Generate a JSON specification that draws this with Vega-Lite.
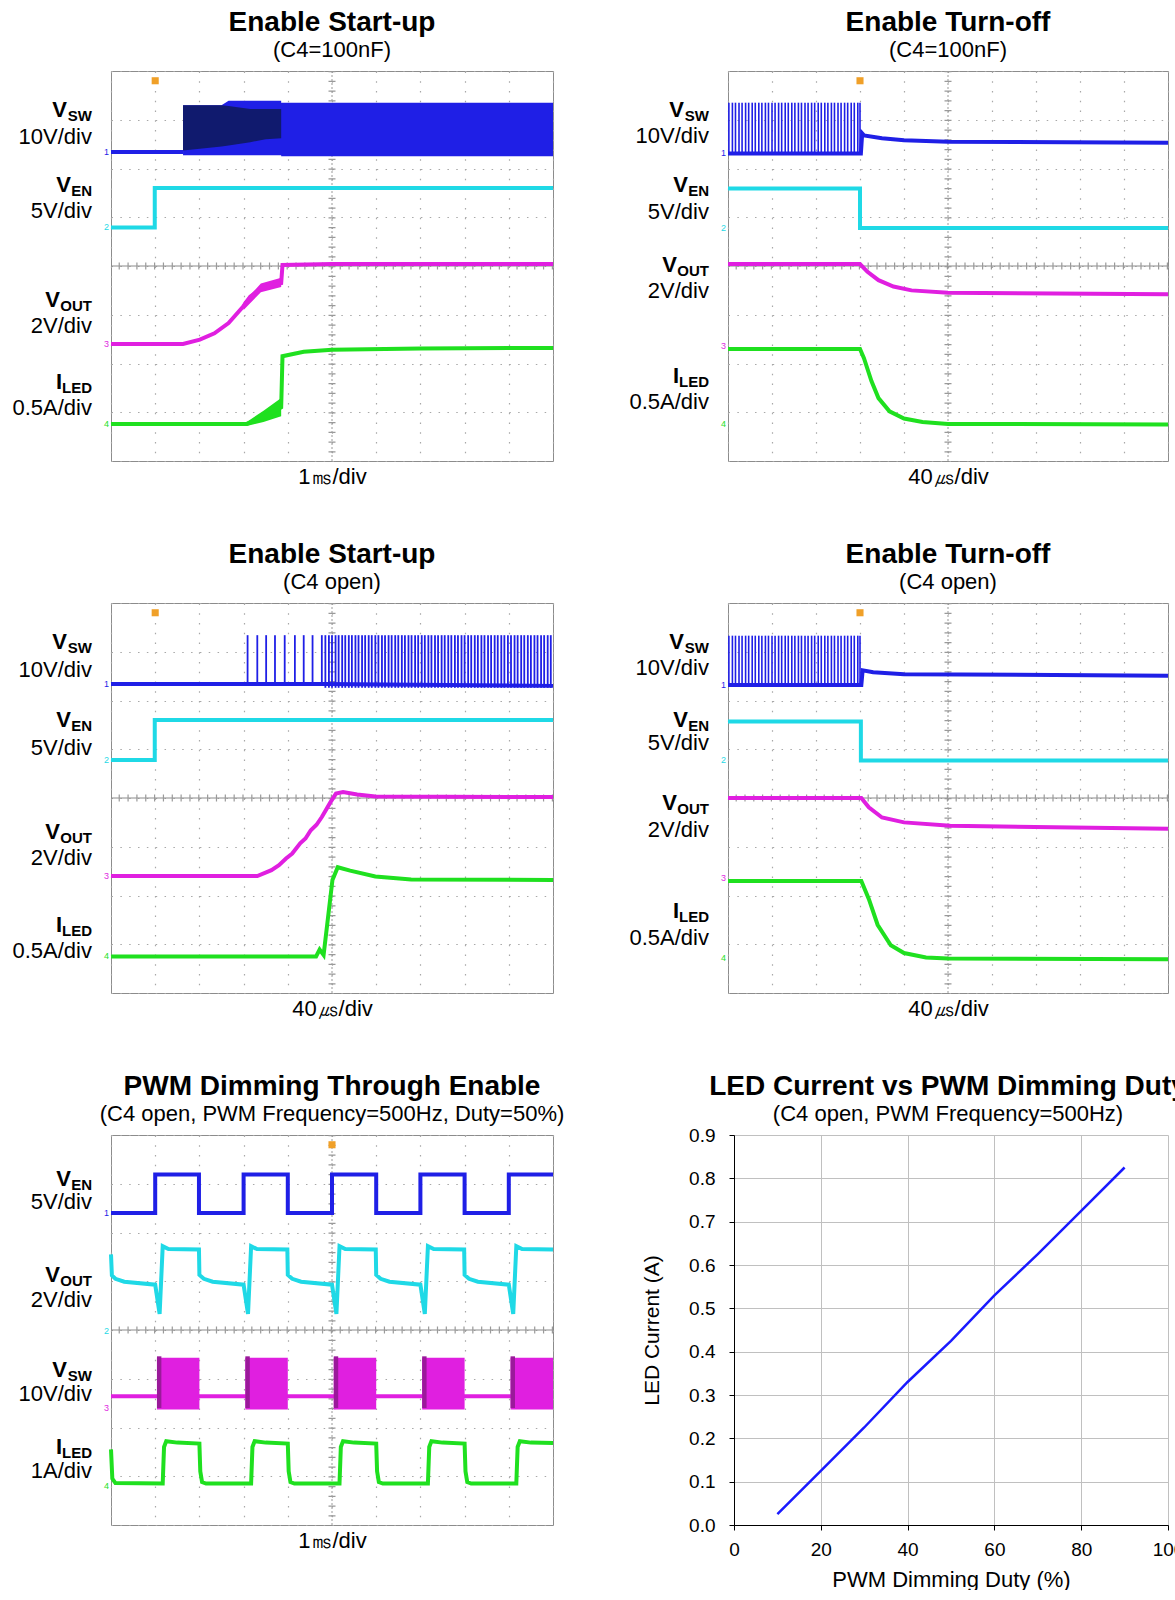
{
"$schema":"https://vega.github.io/schema/vega-lite/v6.json",
"padding":{"left":12,"top":8,"right":0,"bottom":0},
"background":"white",
"config":{
 "font":"Liberation Sans",
 "view":{"stroke":"#8c8c8c","strokeWidth":1},
 "axis":{"labels":false,"ticks":false,"domain":false,"grid":true,"gridColor":"#a8a8a8","gridWidth":1.2,"titleFont":"Liberation Sans","titleFontSize":22,"titleFontWeight":"normal","titleColor":"#000","titlePadding":5},
 "axisX":{"gridDash":[1.5,8.25]},
 "axisY":{"gridDash":[1.5,7.34]},
 "title":{"font":"Liberation Sans","fontSize":28,"fontWeight":"bold","color":"#000","subtitleFont":"Liberation Sans","subtitleFontSize":22,"subtitleColor":"#000","offset":7,"subtitlePadding":3,"anchor":"middle","frame":"group"},
 "text":{"font":"Liberation Sans","color":"#000"}
},
"datasets":{
 "tr":[
  {"p":1,"ch":1,"s":"a","x":0,"y":6.34},{"p":1,"ch":1,"s":"a","x":1.63,"y":6.34},
  {"p":1,"ch":2,"s":"b","x":0,"y":4.79},{"p":1,"ch":2,"s":"b","x":0.99,"y":4.79},{"p":1,"ch":2,"s":"b","x":0.99,"y":5.6},{"p":1,"ch":2,"s":"b","x":10,"y":5.6},
  {"p":1,"ch":3,"s":"c","x":0,"y":2.4},{"p":1,"ch":3,"s":"c","x":1.63,"y":2.4},{"p":1,"ch":3,"s":"c","x":2.01,"y":2.49},{"p":1,"ch":3,"s":"c","x":2.34,"y":2.62},{"p":1,"ch":3,"s":"c","x":2.66,"y":2.83},{"p":1,"ch":3,"s":"c","x":2.99,"y":3.17},{"p":1,"ch":3,"s":"c","x":3.15,"y":3.37},{"p":1,"ch":3,"s":"c","x":3.39,"y":3.54},{"p":1,"ch":3,"s":"c","x":3.6,"y":3.6},{"p":1,"ch":3,"s":"c","x":3.85,"y":3.65},{"p":1,"ch":3,"s":"c","x":3.88,"y":4.02},{"p":1,"ch":3,"s":"c","x":5,"y":4.04},{"p":1,"ch":3,"s":"c","x":10,"y":4.04},
  {"p":1,"ch":4,"s":"d","x":0,"y":0.76},{"p":1,"ch":4,"s":"d","x":3.07,"y":0.76},{"p":1,"ch":4,"s":"d","x":3.45,"y":0.9},{"p":1,"ch":4,"s":"d","x":3.85,"y":1.1},{"p":1,"ch":4,"s":"d","x":3.88,"y":2.15},{"p":1,"ch":4,"s":"d","x":4.36,"y":2.24},{"p":1,"ch":4,"s":"d","x":5,"y":2.28},{"p":1,"ch":4,"s":"d","x":7,"y":2.31},{"p":1,"ch":4,"s":"d","x":10,"y":2.32},

  {"p":2,"ch":1,"s":"a","x":0,"y":6.31},{"p":2,"ch":1,"s":"a","x":3.02,"y":6.31},{"p":2,"ch":1,"s":"a","x":3.05,"y":6.72},{"p":2,"ch":1,"s":"a","x":3.09,"y":6.68},{"p":2,"ch":1,"s":"a","x":3.5,"y":6.62},{"p":2,"ch":1,"s":"a","x":4,"y":6.58},{"p":2,"ch":1,"s":"a","x":5,"y":6.55},{"p":2,"ch":1,"s":"a","x":10,"y":6.53},
  {"p":2,"ch":2,"s":"b","x":0,"y":5.59},{"p":2,"ch":2,"s":"b","x":3,"y":5.59},{"p":2,"ch":2,"s":"b","x":3,"y":4.78},{"p":2,"ch":2,"s":"b","x":10,"y":4.78},
  {"p":2,"ch":3,"s":"c","x":0,"y":4.04},{"p":2,"ch":3,"s":"c","x":3,"y":4.04},{"p":2,"ch":3,"s":"c","x":3.17,"y":3.88},{"p":2,"ch":3,"s":"c","x":3.42,"y":3.71},{"p":2,"ch":3,"s":"c","x":3.76,"y":3.58},{"p":2,"ch":3,"s":"c","x":4.17,"y":3.5},{"p":2,"ch":3,"s":"c","x":5,"y":3.45},{"p":2,"ch":3,"s":"c","x":10,"y":3.42},
  {"p":2,"ch":4,"s":"d","x":0,"y":2.3},{"p":2,"ch":4,"s":"d","x":3,"y":2.3},{"p":2,"ch":4,"s":"d","x":3.09,"y":2.11},{"p":2,"ch":4,"s":"d","x":3.26,"y":1.64},{"p":2,"ch":4,"s":"d","x":3.42,"y":1.29},{"p":2,"ch":4,"s":"d","x":3.67,"y":1.02},{"p":2,"ch":4,"s":"d","x":4,"y":0.87},{"p":2,"ch":4,"s":"d","x":4.42,"y":0.8},{"p":2,"ch":4,"s":"d","x":5,"y":0.76},{"p":2,"ch":4,"s":"d","x":10,"y":0.75},

  {"p":3,"ch":1,"s":"a","x":0,"y":6.34},{"p":3,"ch":1,"s":"a","x":4.85,"y":6.34},{"p":3,"ch":1,"s":"a","x":10,"y":6.3},
  {"p":3,"ch":2,"s":"b","x":0,"y":4.78},{"p":3,"ch":2,"s":"b","x":0.99,"y":4.78},{"p":3,"ch":2,"s":"b","x":0.99,"y":5.6},{"p":3,"ch":2,"s":"b","x":10,"y":5.6},
  {"p":3,"ch":3,"s":"c","x":0,"y":2.4},{"p":3,"ch":3,"s":"c","x":3.31,"y":2.4},{"p":3,"ch":3,"s":"c","x":3.63,"y":2.52},{"p":3,"ch":3,"s":"c","x":3.8,"y":2.62},{"p":3,"ch":3,"s":"c","x":3.96,"y":2.76},{"p":3,"ch":3,"s":"c","x":4.1,"y":2.86},{"p":3,"ch":3,"s":"c","x":4.28,"y":3.07},{"p":3,"ch":3,"s":"c","x":4.4,"y":3.17},{"p":3,"ch":3,"s":"c","x":4.52,"y":3.34},{"p":3,"ch":3,"s":"c","x":4.65,"y":3.45},{"p":3,"ch":3,"s":"c","x":4.77,"y":3.61},{"p":3,"ch":3,"s":"c","x":4.97,"y":3.92},{"p":3,"ch":3,"s":"c","x":5.09,"y":4.09},{"p":3,"ch":3,"s":"c","x":5.25,"y":4.12},{"p":3,"ch":3,"s":"c","x":5.57,"y":4.07},{"p":3,"ch":3,"s":"c","x":5.98,"y":4.03},{"p":3,"ch":3,"s":"c","x":10,"y":4.02},
  {"p":3,"ch":4,"s":"d","x":0,"y":0.75},{"p":3,"ch":4,"s":"d","x":4.64,"y":0.75},{"p":3,"ch":4,"s":"d","x":4.72,"y":0.89},{"p":3,"ch":4,"s":"d","x":4.81,"y":0.78},{"p":3,"ch":4,"s":"d","x":5.01,"y":2.32},{"p":3,"ch":4,"s":"d","x":5.13,"y":2.58},{"p":3,"ch":4,"s":"d","x":5.41,"y":2.51},{"p":3,"ch":4,"s":"d","x":5.98,"y":2.39},{"p":3,"ch":4,"s":"d","x":6.79,"y":2.33},{"p":3,"ch":4,"s":"d","x":10,"y":2.32},

  {"p":4,"ch":1,"s":"a","x":0,"y":6.32},{"p":4,"ch":1,"s":"a","x":3.03,"y":6.32},{"p":4,"ch":1,"s":"a","x":3.06,"y":6.62},{"p":4,"ch":1,"s":"a","x":3.3,"y":6.58},{"p":4,"ch":1,"s":"a","x":4,"y":6.54},{"p":4,"ch":1,"s":"a","x":10,"y":6.51},
  {"p":4,"ch":2,"s":"b","x":0,"y":5.57},{"p":4,"ch":2,"s":"b","x":3.02,"y":5.57},{"p":4,"ch":2,"s":"b","x":3.02,"y":4.77},{"p":4,"ch":2,"s":"b","x":10,"y":4.77},
  {"p":4,"ch":3,"s":"c","x":0,"y":4.0},{"p":4,"ch":3,"s":"c","x":3.03,"y":4.0},{"p":4,"ch":3,"s":"c","x":3.2,"y":3.81},{"p":4,"ch":3,"s":"c","x":3.5,"y":3.6},{"p":4,"ch":3,"s":"c","x":4,"y":3.5},{"p":4,"ch":3,"s":"c","x":5.05,"y":3.43},{"p":4,"ch":3,"s":"c","x":10,"y":3.37},
  {"p":4,"ch":4,"s":"d","x":0,"y":2.3},{"p":4,"ch":4,"s":"d","x":3.03,"y":2.3},{"p":4,"ch":4,"s":"d","x":3.2,"y":1.93},{"p":4,"ch":4,"s":"d","x":3.4,"y":1.4},{"p":4,"ch":4,"s":"d","x":3.7,"y":0.98},{"p":4,"ch":4,"s":"d","x":4,"y":0.82},{"p":4,"ch":4,"s":"d","x":4.5,"y":0.73},{"p":4,"ch":4,"s":"d","x":5,"y":0.71},{"p":4,"ch":4,"s":"d","x":10,"y":0.69},

  {"p":5,"ch":1,"s":"a","x":0,"y":6.4},{"p":5,"ch":1,"s":"a","x":1,"y":6.4},{"p":5,"ch":1,"s":"a","x":1,"y":7.19},{"p":5,"ch":1,"s":"a","x":1.99,"y":7.19},{"p":5,"ch":1,"s":"a","x":1.99,"y":6.4},{"p":5,"ch":1,"s":"a","x":3,"y":6.4},{"p":5,"ch":1,"s":"a","x":3,"y":7.19},{"p":5,"ch":1,"s":"a","x":4,"y":7.19},{"p":5,"ch":1,"s":"a","x":4,"y":6.4},{"p":5,"ch":1,"s":"a","x":5,"y":6.4},{"p":5,"ch":1,"s":"a","x":5,"y":7.19},{"p":5,"ch":1,"s":"a","x":6,"y":7.19},{"p":5,"ch":1,"s":"a","x":6,"y":6.4},{"p":5,"ch":1,"s":"a","x":7,"y":6.4},{"p":5,"ch":1,"s":"a","x":7,"y":7.19},{"p":5,"ch":1,"s":"a","x":8,"y":7.19},{"p":5,"ch":1,"s":"a","x":8,"y":6.4},{"p":5,"ch":1,"s":"a","x":9,"y":6.4},{"p":5,"ch":1,"s":"a","x":9,"y":7.19},{"p":5,"ch":1,"s":"a","x":10,"y":7.19},
  {"p":5,"ch":2,"s":"b","x":0,"y":5.55},{"p":5,"ch":2,"s":"b","x":0.02,"y":5.12},{"p":5,"ch":2,"s":"b","x":0.1,"y":5.05},{"p":5,"ch":2,"s":"b","x":0.3,"y":4.99},{"p":5,"ch":2,"s":"b","x":1,"y":4.93},{"p":5,"ch":2,"s":"b","x":1.1,"y":4.33},{"p":5,"ch":2,"s":"b","x":1.17,"y":5.72},{"p":5,"ch":2,"s":"b","x":1.3,"y":5.66},{"p":5,"ch":2,"s":"b","x":1.99,"y":5.65},{"p":5,"ch":2,"s":"b","x":2,"y":5.13},{"p":5,"ch":2,"s":"b","x":2.1,"y":5.05},{"p":5,"ch":2,"s":"b","x":2.3,"y":4.99},{"p":5,"ch":2,"s":"b","x":3,"y":4.93},{"p":5,"ch":2,"s":"b","x":3.1,"y":4.33},{"p":5,"ch":2,"s":"b","x":3.17,"y":5.72},{"p":5,"ch":2,"s":"b","x":3.3,"y":5.66},{"p":5,"ch":2,"s":"b","x":3.99,"y":5.65},{"p":5,"ch":2,"s":"b","x":4,"y":5.13},{"p":5,"ch":2,"s":"b","x":4.1,"y":5.05},{"p":5,"ch":2,"s":"b","x":4.3,"y":4.99},{"p":5,"ch":2,"s":"b","x":5,"y":4.93},{"p":5,"ch":2,"s":"b","x":5.1,"y":4.33},{"p":5,"ch":2,"s":"b","x":5.17,"y":5.72},{"p":5,"ch":2,"s":"b","x":5.3,"y":5.66},{"p":5,"ch":2,"s":"b","x":5.99,"y":5.65},{"p":5,"ch":2,"s":"b","x":6,"y":5.13},{"p":5,"ch":2,"s":"b","x":6.1,"y":5.05},{"p":5,"ch":2,"s":"b","x":6.3,"y":4.99},{"p":5,"ch":2,"s":"b","x":7,"y":4.93},{"p":5,"ch":2,"s":"b","x":7.1,"y":4.33},{"p":5,"ch":2,"s":"b","x":7.17,"y":5.72},{"p":5,"ch":2,"s":"b","x":7.3,"y":5.66},{"p":5,"ch":2,"s":"b","x":7.99,"y":5.65},{"p":5,"ch":2,"s":"b","x":8,"y":5.13},{"p":5,"ch":2,"s":"b","x":8.1,"y":5.05},{"p":5,"ch":2,"s":"b","x":8.3,"y":4.99},{"p":5,"ch":2,"s":"b","x":9,"y":4.93},{"p":5,"ch":2,"s":"b","x":9.1,"y":4.33},{"p":5,"ch":2,"s":"b","x":9.17,"y":5.72},{"p":5,"ch":2,"s":"b","x":9.3,"y":5.66},{"p":5,"ch":2,"s":"b","x":10,"y":5.65},
  {"p":5,"ch":3,"s":"c","x":0,"y":2.64},{"p":5,"ch":3,"s":"c","x":10,"y":2.64},
  {"p":5,"ch":4,"s":"d","x":0,"y":1.55},{"p":5,"ch":4,"s":"d","x":0.03,"y":0.95},{"p":5,"ch":4,"s":"d","x":0.1,"y":0.86},{"p":5,"ch":4,"s":"d","x":1.17,"y":0.85},{"p":5,"ch":4,"s":"d","x":1.2,"y":1.6},{"p":5,"ch":4,"s":"d","x":1.25,"y":1.72},{"p":5,"ch":4,"s":"d","x":1.5,"y":1.69},{"p":5,"ch":4,"s":"d","x":2,"y":1.67},{"p":5,"ch":4,"s":"d","x":2.02,"y":1.1},{"p":5,"ch":4,"s":"d","x":2.06,"y":0.88},{"p":5,"ch":4,"s":"d","x":2.15,"y":0.85},{"p":5,"ch":4,"s":"d","x":3.17,"y":0.85},{"p":5,"ch":4,"s":"d","x":3.2,"y":1.6},{"p":5,"ch":4,"s":"d","x":3.25,"y":1.72},{"p":5,"ch":4,"s":"d","x":3.5,"y":1.69},{"p":5,"ch":4,"s":"d","x":4,"y":1.67},{"p":5,"ch":4,"s":"d","x":4.02,"y":1.1},{"p":5,"ch":4,"s":"d","x":4.06,"y":0.88},{"p":5,"ch":4,"s":"d","x":4.15,"y":0.85},{"p":5,"ch":4,"s":"d","x":5.17,"y":0.85},{"p":5,"ch":4,"s":"d","x":5.2,"y":1.6},{"p":5,"ch":4,"s":"d","x":5.25,"y":1.72},{"p":5,"ch":4,"s":"d","x":5.5,"y":1.69},{"p":5,"ch":4,"s":"d","x":6,"y":1.67},{"p":5,"ch":4,"s":"d","x":6.02,"y":1.1},{"p":5,"ch":4,"s":"d","x":6.06,"y":0.88},{"p":5,"ch":4,"s":"d","x":6.15,"y":0.85},{"p":5,"ch":4,"s":"d","x":7.17,"y":0.85},{"p":5,"ch":4,"s":"d","x":7.2,"y":1.6},{"p":5,"ch":4,"s":"d","x":7.25,"y":1.72},{"p":5,"ch":4,"s":"d","x":7.5,"y":1.69},{"p":5,"ch":4,"s":"d","x":8,"y":1.67},{"p":5,"ch":4,"s":"d","x":8.02,"y":1.1},{"p":5,"ch":4,"s":"d","x":8.06,"y":0.88},{"p":5,"ch":4,"s":"d","x":8.15,"y":0.85},{"p":5,"ch":4,"s":"d","x":9.17,"y":0.85},{"p":5,"ch":4,"s":"d","x":9.2,"y":1.6},{"p":5,"ch":4,"s":"d","x":9.25,"y":1.72},{"p":5,"ch":4,"s":"d","x":9.5,"y":1.69},{"p":5,"ch":4,"s":"d","x":10,"y":1.68}
 ],
 "bd":[
  {"p":1,"ch":1,"s":"w","x":1.63,"lo":6.27,"hi":7.3},{"p":1,"ch":1,"s":"w","x":2.5,"lo":6.27,"hi":7.3},{"p":1,"ch":1,"s":"w","x":2.66,"lo":6.27,"hi":7.39},{"p":1,"ch":1,"s":"w","x":3.85,"lo":6.27,"hi":7.39},{"p":1,"ch":1,"s":"w","x":3.85,"lo":6.25,"hi":7.35},{"p":1,"ch":1,"s":"w","x":10,"lo":6.25,"hi":7.35},
  {"p":1,"ch":3,"s":"v","x":3.0,"lo":3.1,"hi":3.26},{"p":1,"ch":3,"s":"v","x":3.39,"lo":3.46,"hi":3.64},{"p":1,"ch":3,"s":"v","x":3.85,"lo":3.57,"hi":3.76},
  {"p":1,"ch":4,"s":"i","x":3.07,"lo":0.72,"hi":0.8},{"p":1,"ch":4,"s":"i","x":3.45,"lo":0.8,"hi":1.03},{"p":1,"ch":4,"s":"i","x":3.85,"lo":0.92,"hi":1.29},
  {"p":5,"ch":3,"s":"k1","x":1.04,"lo":2.37,"hi":3.43},{"p":5,"ch":3,"s":"k1","x":2.0,"lo":2.37,"hi":3.43},
  {"p":5,"ch":3,"s":"k2","x":3.04,"lo":2.37,"hi":3.43},{"p":5,"ch":3,"s":"k2","x":4.0,"lo":2.37,"hi":3.43},
  {"p":5,"ch":3,"s":"k3","x":5.04,"lo":2.37,"hi":3.43},{"p":5,"ch":3,"s":"k3","x":6.0,"lo":2.37,"hi":3.43},
  {"p":5,"ch":3,"s":"k4","x":7.04,"lo":2.37,"hi":3.43},{"p":5,"ch":3,"s":"k4","x":8.0,"lo":2.37,"hi":3.43},
  {"p":5,"ch":3,"s":"k5","x":9.04,"lo":2.37,"hi":3.43},{"p":5,"ch":3,"s":"k5","x":10,"lo":2.37,"hi":3.43}
 ],
 "core":[
  {"p":1,"ch":1,"s":"n","x":1.63,"lo":6.37,"hi":7.3},{"p":1,"ch":1,"s":"n","x":2.5,"lo":6.45,"hi":7.3},{"p":1,"ch":1,"s":"n","x":2.66,"lo":6.47,"hi":7.28},{"p":1,"ch":1,"s":"n","x":3.15,"lo":6.54,"hi":7.22},{"p":1,"ch":1,"s":"n","x":3.5,"lo":6.6,"hi":7.22},{"p":1,"ch":1,"s":"n","x":3.85,"lo":6.62,"hi":7.22},
  {"p":5,"ch":3,"s":"q1","x":1.04,"lo":2.4,"hi":3.46},{"p":5,"ch":3,"s":"q1","x":1.14,"lo":2.4,"hi":3.46},
  {"p":5,"ch":3,"s":"q2","x":3.04,"lo":2.4,"hi":3.46},{"p":5,"ch":3,"s":"q2","x":3.14,"lo":2.4,"hi":3.46},
  {"p":5,"ch":3,"s":"q3","x":5.04,"lo":2.4,"hi":3.46},{"p":5,"ch":3,"s":"q3","x":5.14,"lo":2.4,"hi":3.46},
  {"p":5,"ch":3,"s":"q4","x":7.04,"lo":2.4,"hi":3.46},{"p":5,"ch":3,"s":"q4","x":7.14,"lo":2.4,"hi":3.46},
  {"p":5,"ch":3,"s":"q5","x":9.04,"lo":2.4,"hi":3.46},{"p":5,"ch":3,"s":"q5","x":9.14,"lo":2.4,"hi":3.46}
 ],
 "sp":[
  {"p":2,"ch":1,"x":0.02,"lo":6.31,"hi":7.35},{"p":2,"ch":1,"x":0.1,"lo":6.31,"hi":7.35},{"p":2,"ch":1,"x":0.17,"lo":6.31,"hi":7.35},{"p":2,"ch":1,"x":0.25,"lo":6.31,"hi":7.35},{"p":2,"ch":1,"x":0.32,"lo":6.31,"hi":7.35},{"p":2,"ch":1,"x":0.4,"lo":6.31,"hi":7.35},{"p":2,"ch":1,"x":0.47,"lo":6.31,"hi":7.35},{"p":2,"ch":1,"x":0.55,"lo":6.31,"hi":7.35},{"p":2,"ch":1,"x":0.62,"lo":6.31,"hi":7.35},{"p":2,"ch":1,"x":0.7,"lo":6.31,"hi":7.35},{"p":2,"ch":1,"x":0.77,"lo":6.31,"hi":7.35},{"p":2,"ch":1,"x":0.85,"lo":6.31,"hi":7.35},{"p":2,"ch":1,"x":0.92,"lo":6.31,"hi":7.35},{"p":2,"ch":1,"x":1.0,"lo":6.31,"hi":7.35},{"p":2,"ch":1,"x":1.07,"lo":6.31,"hi":7.35},{"p":2,"ch":1,"x":1.15,"lo":6.31,"hi":7.35},{"p":2,"ch":1,"x":1.22,"lo":6.31,"hi":7.35},{"p":2,"ch":1,"x":1.3,"lo":6.31,"hi":7.35},{"p":2,"ch":1,"x":1.37,"lo":6.31,"hi":7.35},{"p":2,"ch":1,"x":1.45,"lo":6.31,"hi":7.35},{"p":2,"ch":1,"x":1.52,"lo":6.31,"hi":7.35},{"p":2,"ch":1,"x":1.6,"lo":6.31,"hi":7.35},{"p":2,"ch":1,"x":1.67,"lo":6.31,"hi":7.35},{"p":2,"ch":1,"x":1.75,"lo":6.31,"hi":7.35},{"p":2,"ch":1,"x":1.82,"lo":6.31,"hi":7.35},{"p":2,"ch":1,"x":1.9,"lo":6.31,"hi":7.35},{"p":2,"ch":1,"x":1.97,"lo":6.31,"hi":7.35},{"p":2,"ch":1,"x":2.05,"lo":6.31,"hi":7.35},{"p":2,"ch":1,"x":2.12,"lo":6.31,"hi":7.35},{"p":2,"ch":1,"x":2.2,"lo":6.31,"hi":7.35},{"p":2,"ch":1,"x":2.27,"lo":6.31,"hi":7.35},{"p":2,"ch":1,"x":2.35,"lo":6.31,"hi":7.35},{"p":2,"ch":1,"x":2.42,"lo":6.31,"hi":7.35},{"p":2,"ch":1,"x":2.5,"lo":6.31,"hi":7.35},{"p":2,"ch":1,"x":2.57,"lo":6.31,"hi":7.35},{"p":2,"ch":1,"x":2.65,"lo":6.31,"hi":7.35},{"p":2,"ch":1,"x":2.72,"lo":6.31,"hi":7.35},{"p":2,"ch":1,"x":2.8,"lo":6.31,"hi":7.35},{"p":2,"ch":1,"x":2.87,"lo":6.31,"hi":7.35},{"p":2,"ch":1,"x":2.95,"lo":6.31,"hi":7.35},{"p":2,"ch":1,"x":3.0,"lo":6.31,"hi":7.35},
  {"p":4,"ch":1,"x":0.02,"lo":6.32,"hi":7.33},{"p":4,"ch":1,"x":0.1,"lo":6.32,"hi":7.33},{"p":4,"ch":1,"x":0.17,"lo":6.32,"hi":7.33},{"p":4,"ch":1,"x":0.25,"lo":6.32,"hi":7.33},{"p":4,"ch":1,"x":0.32,"lo":6.32,"hi":7.33},{"p":4,"ch":1,"x":0.4,"lo":6.32,"hi":7.33},{"p":4,"ch":1,"x":0.47,"lo":6.32,"hi":7.33},{"p":4,"ch":1,"x":0.55,"lo":6.32,"hi":7.33},{"p":4,"ch":1,"x":0.62,"lo":6.32,"hi":7.33},{"p":4,"ch":1,"x":0.7,"lo":6.32,"hi":7.33},{"p":4,"ch":1,"x":0.77,"lo":6.32,"hi":7.33},{"p":4,"ch":1,"x":0.85,"lo":6.32,"hi":7.33},{"p":4,"ch":1,"x":0.92,"lo":6.32,"hi":7.33},{"p":4,"ch":1,"x":1.0,"lo":6.32,"hi":7.33},{"p":4,"ch":1,"x":1.07,"lo":6.32,"hi":7.33},{"p":4,"ch":1,"x":1.15,"lo":6.32,"hi":7.33},{"p":4,"ch":1,"x":1.22,"lo":6.32,"hi":7.33},{"p":4,"ch":1,"x":1.3,"lo":6.32,"hi":7.33},{"p":4,"ch":1,"x":1.37,"lo":6.32,"hi":7.33},{"p":4,"ch":1,"x":1.45,"lo":6.32,"hi":7.33},{"p":4,"ch":1,"x":1.52,"lo":6.32,"hi":7.33},{"p":4,"ch":1,"x":1.6,"lo":6.32,"hi":7.33},{"p":4,"ch":1,"x":1.67,"lo":6.32,"hi":7.33},{"p":4,"ch":1,"x":1.75,"lo":6.32,"hi":7.33},{"p":4,"ch":1,"x":1.82,"lo":6.32,"hi":7.33},{"p":4,"ch":1,"x":1.9,"lo":6.32,"hi":7.33},{"p":4,"ch":1,"x":1.97,"lo":6.32,"hi":7.33},{"p":4,"ch":1,"x":2.05,"lo":6.32,"hi":7.33},{"p":4,"ch":1,"x":2.12,"lo":6.32,"hi":7.33},{"p":4,"ch":1,"x":2.2,"lo":6.32,"hi":7.33},{"p":4,"ch":1,"x":2.27,"lo":6.32,"hi":7.33},{"p":4,"ch":1,"x":2.35,"lo":6.32,"hi":7.33},{"p":4,"ch":1,"x":2.42,"lo":6.32,"hi":7.33},{"p":4,"ch":1,"x":2.5,"lo":6.32,"hi":7.33},{"p":4,"ch":1,"x":2.57,"lo":6.32,"hi":7.33},{"p":4,"ch":1,"x":2.65,"lo":6.32,"hi":7.33},{"p":4,"ch":1,"x":2.72,"lo":6.32,"hi":7.33},{"p":4,"ch":1,"x":2.8,"lo":6.32,"hi":7.33},{"p":4,"ch":1,"x":2.87,"lo":6.32,"hi":7.33},{"p":4,"ch":1,"x":2.95,"lo":6.32,"hi":7.33},{"p":4,"ch":1,"x":3.0,"lo":6.32,"hi":7.33},
  {"p":3,"ch":1,"x":3.09,"lo":6.34,"hi":7.34},{"p":3,"ch":1,"x":3.31,"lo":6.34,"hi":7.34},{"p":3,"ch":1,"x":3.51,"lo":6.34,"hi":7.34},{"p":3,"ch":1,"x":3.71,"lo":6.34,"hi":7.34},{"p":3,"ch":1,"x":3.93,"lo":6.34,"hi":7.34},{"p":3,"ch":1,"x":4.16,"lo":6.34,"hi":7.34},{"p":3,"ch":1,"x":4.36,"lo":6.34,"hi":7.34},{"p":3,"ch":1,"x":4.56,"lo":6.34,"hi":7.34},{"p":3,"ch":1,"x":4.77,"lo":6.34,"hi":7.34},
  {"p":3,"ch":1,"x":4.85,"lo":6.26,"hi":7.34},{"p":3,"ch":1,"x":4.93,"lo":6.26,"hi":7.34},{"p":3,"ch":1,"x":5.0,"lo":6.26,"hi":7.34},{"p":3,"ch":1,"x":5.08,"lo":6.26,"hi":7.34},{"p":3,"ch":1,"x":5.15,"lo":6.26,"hi":7.34},{"p":3,"ch":1,"x":5.23,"lo":6.26,"hi":7.34},{"p":3,"ch":1,"x":5.3,"lo":6.26,"hi":7.34},{"p":3,"ch":1,"x":5.38,"lo":6.26,"hi":7.34},{"p":3,"ch":1,"x":5.45,"lo":6.26,"hi":7.34},{"p":3,"ch":1,"x":5.53,"lo":6.26,"hi":7.34},{"p":3,"ch":1,"x":5.6,"lo":6.26,"hi":7.34},{"p":3,"ch":1,"x":5.68,"lo":6.26,"hi":7.34},{"p":3,"ch":1,"x":5.75,"lo":6.26,"hi":7.34},{"p":3,"ch":1,"x":5.83,"lo":6.26,"hi":7.34},{"p":3,"ch":1,"x":5.9,"lo":6.26,"hi":7.34},{"p":3,"ch":1,"x":5.98,"lo":6.26,"hi":7.34},{"p":3,"ch":1,"x":6.05,"lo":6.26,"hi":7.34},{"p":3,"ch":1,"x":6.13,"lo":6.26,"hi":7.34},{"p":3,"ch":1,"x":6.2,"lo":6.26,"hi":7.34},{"p":3,"ch":1,"x":6.28,"lo":6.26,"hi":7.34},{"p":3,"ch":1,"x":6.35,"lo":6.26,"hi":7.34},{"p":3,"ch":1,"x":6.43,"lo":6.26,"hi":7.34},{"p":3,"ch":1,"x":6.5,"lo":6.26,"hi":7.34},{"p":3,"ch":1,"x":6.58,"lo":6.26,"hi":7.34},{"p":3,"ch":1,"x":6.65,"lo":6.26,"hi":7.34},{"p":3,"ch":1,"x":6.73,"lo":6.26,"hi":7.34},{"p":3,"ch":1,"x":6.8,"lo":6.26,"hi":7.34},{"p":3,"ch":1,"x":6.88,"lo":6.26,"hi":7.34},{"p":3,"ch":1,"x":6.95,"lo":6.26,"hi":7.34},{"p":3,"ch":1,"x":7.03,"lo":6.26,"hi":7.34},{"p":3,"ch":1,"x":7.1,"lo":6.26,"hi":7.34},{"p":3,"ch":1,"x":7.18,"lo":6.26,"hi":7.34},{"p":3,"ch":1,"x":7.25,"lo":6.26,"hi":7.34},{"p":3,"ch":1,"x":7.33,"lo":6.26,"hi":7.34},{"p":3,"ch":1,"x":7.4,"lo":6.26,"hi":7.34},{"p":3,"ch":1,"x":7.48,"lo":6.26,"hi":7.34},{"p":3,"ch":1,"x":7.55,"lo":6.26,"hi":7.34},{"p":3,"ch":1,"x":7.63,"lo":6.26,"hi":7.34},{"p":3,"ch":1,"x":7.7,"lo":6.26,"hi":7.34},{"p":3,"ch":1,"x":7.78,"lo":6.26,"hi":7.34},{"p":3,"ch":1,"x":7.85,"lo":6.26,"hi":7.34},{"p":3,"ch":1,"x":7.93,"lo":6.26,"hi":7.34},{"p":3,"ch":1,"x":8.0,"lo":6.26,"hi":7.34},{"p":3,"ch":1,"x":8.08,"lo":6.26,"hi":7.34},{"p":3,"ch":1,"x":8.15,"lo":6.26,"hi":7.34},{"p":3,"ch":1,"x":8.23,"lo":6.26,"hi":7.34},{"p":3,"ch":1,"x":8.3,"lo":6.26,"hi":7.34},{"p":3,"ch":1,"x":8.38,"lo":6.26,"hi":7.34},{"p":3,"ch":1,"x":8.45,"lo":6.26,"hi":7.34},{"p":3,"ch":1,"x":8.53,"lo":6.26,"hi":7.34},{"p":3,"ch":1,"x":8.6,"lo":6.26,"hi":7.34},{"p":3,"ch":1,"x":8.68,"lo":6.26,"hi":7.34},{"p":3,"ch":1,"x":8.75,"lo":6.26,"hi":7.34},{"p":3,"ch":1,"x":8.83,"lo":6.26,"hi":7.34},{"p":3,"ch":1,"x":8.9,"lo":6.26,"hi":7.34},{"p":3,"ch":1,"x":8.98,"lo":6.26,"hi":7.34},{"p":3,"ch":1,"x":9.05,"lo":6.26,"hi":7.34},{"p":3,"ch":1,"x":9.13,"lo":6.26,"hi":7.34},{"p":3,"ch":1,"x":9.2,"lo":6.26,"hi":7.34},{"p":3,"ch":1,"x":9.28,"lo":6.26,"hi":7.34},{"p":3,"ch":1,"x":9.35,"lo":6.26,"hi":7.34},{"p":3,"ch":1,"x":9.43,"lo":6.26,"hi":7.34},{"p":3,"ch":1,"x":9.5,"lo":6.26,"hi":7.34},{"p":3,"ch":1,"x":9.58,"lo":6.26,"hi":7.34},{"p":3,"ch":1,"x":9.65,"lo":6.26,"hi":7.34},{"p":3,"ch":1,"x":9.73,"lo":6.26,"hi":7.34},{"p":3,"ch":1,"x":9.8,"lo":6.26,"hi":7.34},{"p":3,"ch":1,"x":9.88,"lo":6.26,"hi":7.34},{"p":3,"ch":1,"x":9.95,"lo":6.26,"hi":7.34}
 ],
 "lb":[
  {"p":1,"k":"m","t":"V","sub":"SW","y":7.2},{"p":1,"k":"s","t":"10V/div","y":6.65},{"p":1,"k":"m","t":"V","sub":"EN","y":5.66},{"p":1,"k":"s","t":"5V/div","y":5.12},{"p":1,"k":"m","t":"V","sub":"OUT","y":3.3},{"p":1,"k":"s","t":"2V/div","y":2.76},{"p":1,"k":"m","t":"I","sub":"LED","y":1.63},{"p":1,"k":"s","t":"0.5A/div","y":1.08},
  {"p":2,"k":"m","t":"V","sub":"SW","y":7.2},{"p":2,"k":"s","t":"10V/div","y":6.66},{"p":2,"k":"m","t":"V","sub":"EN","y":5.66},{"p":2,"k":"s","t":"5V/div","y":5.11},{"p":2,"k":"m","t":"V","sub":"OUT","y":4.03},{"p":2,"k":"s","t":"2V/div","y":3.49},{"p":2,"k":"m","t":"I","sub":"LED","y":1.74},{"p":2,"k":"s","t":"0.5A/div","y":1.21},
  {"p":3,"k":"m","t":"V","sub":"SW","y":7.2},{"p":3,"k":"s","t":"10V/div","y":6.63},{"p":3,"k":"m","t":"V","sub":"EN","y":5.59},{"p":3,"k":"s","t":"5V/div","y":5.03},{"p":3,"k":"m","t":"V","sub":"OUT","y":3.3},{"p":3,"k":"s","t":"2V/div","y":2.76},{"p":3,"k":"m","t":"I","sub":"LED","y":1.39},{"p":3,"k":"s","t":"0.5A/div","y":0.86},
  {"p":4,"k":"m","t":"V","sub":"SW","y":7.2},{"p":4,"k":"s","t":"10V/div","y":6.66},{"p":4,"k":"m","t":"V","sub":"EN","y":5.6},{"p":4,"k":"s","t":"5V/div","y":5.13},{"p":4,"k":"m","t":"V","sub":"OUT","y":3.89},{"p":4,"k":"s","t":"2V/div","y":3.35},{"p":4,"k":"m","t":"I","sub":"LED","y":1.68},{"p":4,"k":"s","t":"0.5A/div","y":1.13},
  {"p":5,"k":"m","t":"V","sub":"EN","y":7.1},{"p":5,"k":"s","t":"5V/div","y":6.62},{"p":5,"k":"m","t":"V","sub":"OUT","y":5.13},{"p":5,"k":"s","t":"2V/div","y":4.62},{"p":5,"k":"m","t":"V","sub":"SW","y":3.18},{"p":5,"k":"s","t":"10V/div","y":2.68},{"p":5,"k":"m","t":"I","sub":"LED","y":1.6},{"p":5,"k":"s","t":"1A/div","y":1.1}
 ],
 "mk":[
  {"p":1,"ch":1,"y":6.34},{"p":1,"ch":2,"y":4.79},{"p":1,"ch":3,"y":2.4},{"p":1,"ch":4,"y":0.76},
  {"p":2,"ch":1,"y":6.31},{"p":2,"ch":2,"y":4.78},{"p":2,"ch":3,"y":2.35},{"p":2,"ch":4,"y":0.76},
  {"p":3,"ch":1,"y":6.34},{"p":3,"ch":2,"y":4.78},{"p":3,"ch":3,"y":2.4},{"p":3,"ch":4,"y":0.75},
  {"p":4,"ch":1,"y":6.32},{"p":4,"ch":2,"y":4.77},{"p":4,"ch":3,"y":2.35},{"p":4,"ch":4,"y":0.71},
  {"p":5,"ch":1,"y":6.4},{"p":5,"ch":2,"y":3.97},{"p":5,"ch":3,"y":2.4},{"p":5,"ch":4,"y":0.8}
 ],
 "trig":[{"p":1,"x":1},{"p":2,"x":3},{"p":3,"x":1},{"p":4,"x":3},{"p":5,"x":5}],
 "led":[{"duty":10,"cur":0.025},{"duty":20,"cur":0.125},{"duty":30,"cur":0.225},{"duty":40,"cur":0.33},{"duty":50,"cur":0.425},{"duty":60,"cur":0.53},{"duty":70,"cur":0.625},{"duty":80,"cur":0.725},{"duty":90,"cur":0.825}]
},
"columns":2,
"spacing":{"row":142,"column":175},
"bounds":"flush",
"concat":[
 {"width":442,"height":390,"title":{"text":"Enable Start-up","subtitle":"(C4=100nF)"},
  "layer":[
   {"data":{"values":[{"v":4}]},"mark":{"type":"rule","color":"#8a8a8a","strokeWidth":1},"encoding":{"y":{"field":"v","type":"quantitative","scale":{"domain":[0,8]},"axis":{"values":[0,1,2,3,4,5,6,7,8],"title":null}}}},
   {"data":{"values":[{"v":5}]},"mark":{"type":"rule","color":"#9a9a9a","strokeWidth":1,"strokeDash":[2,2]},"encoding":{"x":{"field":"v","type":"quantitative","scale":{"domain":[0,10]},"axis":{"values":[0,1,2,3,4,5,6,7,8,9,10],"title":"1㎳/div"}}}},
   {"data":{"values":[{"v":4}]},"mark":{"type":"rule","color":"#9a9a9a","strokeWidth":7,"strokeDash":[1.2,7.64]},"encoding":{"y":{"field":"v","type":"quantitative"}}},
   {"data":{"values":[{"v":5}]},"mark":{"type":"rule","color":"#9a9a9a","strokeWidth":7,"strokeDash":[1.2,8.55]},"encoding":{"x":{"field":"v","type":"quantitative"}}},
   {"data":{"name":"bd"},"transform":[{"filter":"datum.p==1"}],"mark":{"type":"area","opacity":1},"encoding":{"x":{"field":"x","type":"quantitative"},"y":{"field":"lo","type":"quantitative"},"y2":{"field":"hi"},"color":{"field":"ch","type":"nominal","scale":{"domain":[1,2,3,4],"range":["#1f1fe6","#1fd9e6","#e01fe0","#1fe01f"]},"legend":null},"detail":{"field":"s"}}},
   {"data":{"name":"core"},"transform":[{"filter":"datum.p==1"}],"mark":{"type":"area","opacity":1},"encoding":{"x":{"field":"x","type":"quantitative"},"y":{"field":"lo","type":"quantitative"},"y2":{"field":"hi"},"fill":{"field":"ch","type":"nominal","scale":{"domain":[1,3],"range":["#101a6e","#9a1a9a"]},"legend":null},"detail":{"field":"s"}}},
   {"data":{"name":"tr"},"transform":[{"filter":"datum.p==1"}],"mark":{"type":"line","strokeWidth":4},"encoding":{"x":{"field":"x","type":"quantitative"},"y":{"field":"y","type":"quantitative"},"color":{"field":"ch","type":"nominal","scale":{"domain":[1,2,3,4],"range":["#1f1fe6","#1fd9e6","#e01fe0","#1fe01f"]},"legend":null},"detail":{"field":"s"}}},
   {"data":{"name":"trig"},"transform":[{"filter":"datum.p==1"}],"mark":{"type":"point","shape":"square","filled":true,"size":50,"color":"#f0a028","opacity":1},"encoding":{"x":{"field":"x","type":"quantitative"},"y":{"datum":7.8,"type":"quantitative"}}},
   {"data":{"name":"mk"},"transform":[{"filter":"datum.p==1"}],"mark":{"type":"text","fontSize":9,"align":"right","baseline":"middle","dx":-2},"encoding":{"x":{"datum":0,"type":"quantitative"},"y":{"field":"y","type":"quantitative"},"text":{"field":"ch","type":"nominal"},"color":{"field":"ch","type":"nominal","scale":{"domain":[1,2,3,4],"range":["#1f1fe6","#1fd9e6","#e01fe0","#1fe01f"]},"legend":null}}},
   {"data":{"name":"lb"},"transform":[{"filter":"datum.p==1 && datum.k=='m' && datum.sub=='SW'"}],"mark":{"type":"text","fontSize":22,"fontWeight":"bold","align":"right","baseline":"middle","dx":-44},"encoding":{"x":{"datum":0,"type":"quantitative"},"y":{"field":"y","type":"quantitative"},"text":{"field":"t"}}},
   {"data":{"name":"lb"},"transform":[{"filter":"datum.p==1 && datum.k=='m' && datum.sub=='EN'"}],"mark":{"type":"text","fontSize":22,"fontWeight":"bold","align":"right","baseline":"middle","dx":-40},"encoding":{"x":{"datum":0,"type":"quantitative"},"y":{"field":"y","type":"quantitative"},"text":{"field":"t"}}},
   {"data":{"name":"lb"},"transform":[{"filter":"datum.p==1 && datum.k=='m' && datum.sub=='OUT'"}],"mark":{"type":"text","fontSize":22,"fontWeight":"bold","align":"right","baseline":"middle","dx":-51},"encoding":{"x":{"datum":0,"type":"quantitative"},"y":{"field":"y","type":"quantitative"},"text":{"field":"t"}}},
   {"data":{"name":"lb"},"transform":[{"filter":"datum.p==1 && datum.k=='m' && datum.sub=='LED'"}],"mark":{"type":"text","fontSize":22,"fontWeight":"bold","align":"right","baseline":"middle","dx":-49},"encoding":{"x":{"datum":0,"type":"quantitative"},"y":{"field":"y","type":"quantitative"},"text":{"field":"t"}}},
   {"data":{"name":"lb"},"transform":[{"filter":"datum.p==1 && datum.k=='m'"}],"mark":{"type":"text","fontSize":15,"fontWeight":"bold","align":"right","baseline":"middle","dx":-19,"dy":6},"encoding":{"x":{"datum":0,"type":"quantitative"},"y":{"field":"y","type":"quantitative"},"text":{"field":"sub"}}},
   {"data":{"name":"lb"},"transform":[{"filter":"datum.p==1 && datum.k=='s'"}],"mark":{"type":"text","fontSize":22,"align":"right","baseline":"middle","dx":-19},"encoding":{"x":{"datum":0,"type":"quantitative"},"y":{"field":"y","type":"quantitative"},"text":{"field":"t"}}}
  ]},
 {"width":440,"height":390,"title":{"text":"Enable Turn-off","subtitle":"(C4=100nF)"},
  "layer":[
   {"data":{"values":[{"v":4}]},"mark":{"type":"rule","color":"#8a8a8a","strokeWidth":1},"encoding":{"y":{"field":"v","type":"quantitative","scale":{"domain":[0,8]},"axis":{"values":[0,1,2,3,4,5,6,7,8],"title":null}}}},
   {"data":{"values":[{"v":5}]},"mark":{"type":"rule","color":"#9a9a9a","strokeWidth":1,"strokeDash":[2,2]},"encoding":{"x":{"field":"v","type":"quantitative","scale":{"domain":[0,10]},"axis":{"values":[0,1,2,3,4,5,6,7,8,9,10],"title":"40㎲/div"}}}},
   {"data":{"values":[{"v":4}]},"mark":{"type":"rule","color":"#9a9a9a","strokeWidth":7,"strokeDash":[1.2,7.6]},"encoding":{"y":{"field":"v","type":"quantitative"}}},
   {"data":{"values":[{"v":5}]},"mark":{"type":"rule","color":"#9a9a9a","strokeWidth":7,"strokeDash":[1.2,8.55]},"encoding":{"x":{"field":"v","type":"quantitative"}}},
   {"data":{"name":"sp"},"transform":[{"filter":"datum.p==2"}],"mark":{"type":"rule","strokeWidth":1.6},"encoding":{"x":{"field":"x","type":"quantitative"},"y":{"field":"lo","type":"quantitative"},"y2":{"field":"hi"},"color":{"field":"ch","type":"nominal","scale":{"domain":[1,2,3,4],"range":["#1f1fe6","#1fd9e6","#e01fe0","#1fe01f"]},"legend":null}}},
   {"data":{"name":"tr"},"transform":[{"filter":"datum.p==2"}],"mark":{"type":"line","strokeWidth":4},"encoding":{"x":{"field":"x","type":"quantitative"},"y":{"field":"y","type":"quantitative"},"color":{"field":"ch","type":"nominal","scale":{"domain":[1,2,3,4],"range":["#1f1fe6","#1fd9e6","#e01fe0","#1fe01f"]},"legend":null},"detail":{"field":"s"}}},
   {"data":{"name":"trig"},"transform":[{"filter":"datum.p==2"}],"mark":{"type":"point","shape":"square","filled":true,"size":50,"color":"#f0a028","opacity":1},"encoding":{"x":{"field":"x","type":"quantitative"},"y":{"datum":7.8,"type":"quantitative"}}},
   {"data":{"name":"mk"},"transform":[{"filter":"datum.p==2"}],"mark":{"type":"text","fontSize":9,"align":"right","baseline":"middle","dx":-2},"encoding":{"x":{"datum":0,"type":"quantitative"},"y":{"field":"y","type":"quantitative"},"text":{"field":"ch","type":"nominal"},"color":{"field":"ch","type":"nominal","scale":{"domain":[1,2,3,4],"range":["#1f1fe6","#1fd9e6","#e01fe0","#1fe01f"]},"legend":null}}},
   {"data":{"name":"lb"},"transform":[{"filter":"datum.p==2 && datum.k=='m' && datum.sub=='SW'"}],"mark":{"type":"text","fontSize":22,"fontWeight":"bold","align":"right","baseline":"middle","dx":-44},"encoding":{"x":{"datum":0,"type":"quantitative"},"y":{"field":"y","type":"quantitative"},"text":{"field":"t"}}},
   {"data":{"name":"lb"},"transform":[{"filter":"datum.p==2 && datum.k=='m' && datum.sub=='EN'"}],"mark":{"type":"text","fontSize":22,"fontWeight":"bold","align":"right","baseline":"middle","dx":-40},"encoding":{"x":{"datum":0,"type":"quantitative"},"y":{"field":"y","type":"quantitative"},"text":{"field":"t"}}},
   {"data":{"name":"lb"},"transform":[{"filter":"datum.p==2 && datum.k=='m' && datum.sub=='OUT'"}],"mark":{"type":"text","fontSize":22,"fontWeight":"bold","align":"right","baseline":"middle","dx":-51},"encoding":{"x":{"datum":0,"type":"quantitative"},"y":{"field":"y","type":"quantitative"},"text":{"field":"t"}}},
   {"data":{"name":"lb"},"transform":[{"filter":"datum.p==2 && datum.k=='m' && datum.sub=='LED'"}],"mark":{"type":"text","fontSize":22,"fontWeight":"bold","align":"right","baseline":"middle","dx":-49},"encoding":{"x":{"datum":0,"type":"quantitative"},"y":{"field":"y","type":"quantitative"},"text":{"field":"t"}}},
   {"data":{"name":"lb"},"transform":[{"filter":"datum.p==2 && datum.k=='m'"}],"mark":{"type":"text","fontSize":15,"fontWeight":"bold","align":"right","baseline":"middle","dx":-19,"dy":6},"encoding":{"x":{"datum":0,"type":"quantitative"},"y":{"field":"y","type":"quantitative"},"text":{"field":"sub"}}},
   {"data":{"name":"lb"},"transform":[{"filter":"datum.p==2 && datum.k=='s'"}],"mark":{"type":"text","fontSize":22,"align":"right","baseline":"middle","dx":-19},"encoding":{"x":{"datum":0,"type":"quantitative"},"y":{"field":"y","type":"quantitative"},"text":{"field":"t"}}}
  ]},
 {"width":442,"height":390,"title":{"text":"Enable Start-up","subtitle":"(C4 open)"},
  "layer":[
   {"data":{"values":[{"v":4}]},"mark":{"type":"rule","color":"#8a8a8a","strokeWidth":1},"encoding":{"y":{"field":"v","type":"quantitative","scale":{"domain":[0,8]},"axis":{"values":[0,1,2,3,4,5,6,7,8],"title":null}}}},
   {"data":{"values":[{"v":5}]},"mark":{"type":"rule","color":"#9a9a9a","strokeWidth":1,"strokeDash":[2,2]},"encoding":{"x":{"field":"v","type":"quantitative","scale":{"domain":[0,10]},"axis":{"values":[0,1,2,3,4,5,6,7,8,9,10],"title":"40㎲/div"}}}},
   {"data":{"values":[{"v":4}]},"mark":{"type":"rule","color":"#9a9a9a","strokeWidth":7,"strokeDash":[1.2,7.64]},"encoding":{"y":{"field":"v","type":"quantitative"}}},
   {"data":{"values":[{"v":5}]},"mark":{"type":"rule","color":"#9a9a9a","strokeWidth":7,"strokeDash":[1.2,8.55]},"encoding":{"x":{"field":"v","type":"quantitative"}}},
   {"data":{"name":"sp"},"transform":[{"filter":"datum.p==3"}],"mark":{"type":"rule","strokeWidth":1.8},"encoding":{"x":{"field":"x","type":"quantitative"},"y":{"field":"lo","type":"quantitative"},"y2":{"field":"hi"},"color":{"field":"ch","type":"nominal","scale":{"domain":[1,2,3,4],"range":["#1f1fe6","#1fd9e6","#e01fe0","#1fe01f"]},"legend":null}}},
   {"data":{"name":"tr"},"transform":[{"filter":"datum.p==3"}],"mark":{"type":"line","strokeWidth":4},"encoding":{"x":{"field":"x","type":"quantitative"},"y":{"field":"y","type":"quantitative"},"color":{"field":"ch","type":"nominal","scale":{"domain":[1,2,3,4],"range":["#1f1fe6","#1fd9e6","#e01fe0","#1fe01f"]},"legend":null},"detail":{"field":"s"}}},
   {"data":{"name":"trig"},"transform":[{"filter":"datum.p==3"}],"mark":{"type":"point","shape":"square","filled":true,"size":50,"color":"#f0a028","opacity":1},"encoding":{"x":{"field":"x","type":"quantitative"},"y":{"datum":7.8,"type":"quantitative"}}},
   {"data":{"name":"mk"},"transform":[{"filter":"datum.p==3"}],"mark":{"type":"text","fontSize":9,"align":"right","baseline":"middle","dx":-2},"encoding":{"x":{"datum":0,"type":"quantitative"},"y":{"field":"y","type":"quantitative"},"text":{"field":"ch","type":"nominal"},"color":{"field":"ch","type":"nominal","scale":{"domain":[1,2,3,4],"range":["#1f1fe6","#1fd9e6","#e01fe0","#1fe01f"]},"legend":null}}},
   {"data":{"name":"lb"},"transform":[{"filter":"datum.p==3 && datum.k=='m' && datum.sub=='SW'"}],"mark":{"type":"text","fontSize":22,"fontWeight":"bold","align":"right","baseline":"middle","dx":-44},"encoding":{"x":{"datum":0,"type":"quantitative"},"y":{"field":"y","type":"quantitative"},"text":{"field":"t"}}},
   {"data":{"name":"lb"},"transform":[{"filter":"datum.p==3 && datum.k=='m' && datum.sub=='EN'"}],"mark":{"type":"text","fontSize":22,"fontWeight":"bold","align":"right","baseline":"middle","dx":-40},"encoding":{"x":{"datum":0,"type":"quantitative"},"y":{"field":"y","type":"quantitative"},"text":{"field":"t"}}},
   {"data":{"name":"lb"},"transform":[{"filter":"datum.p==3 && datum.k=='m' && datum.sub=='OUT'"}],"mark":{"type":"text","fontSize":22,"fontWeight":"bold","align":"right","baseline":"middle","dx":-51},"encoding":{"x":{"datum":0,"type":"quantitative"},"y":{"field":"y","type":"quantitative"},"text":{"field":"t"}}},
   {"data":{"name":"lb"},"transform":[{"filter":"datum.p==3 && datum.k=='m' && datum.sub=='LED'"}],"mark":{"type":"text","fontSize":22,"fontWeight":"bold","align":"right","baseline":"middle","dx":-49},"encoding":{"x":{"datum":0,"type":"quantitative"},"y":{"field":"y","type":"quantitative"},"text":{"field":"t"}}},
   {"data":{"name":"lb"},"transform":[{"filter":"datum.p==3 && datum.k=='m'"}],"mark":{"type":"text","fontSize":15,"fontWeight":"bold","align":"right","baseline":"middle","dx":-19,"dy":6},"encoding":{"x":{"datum":0,"type":"quantitative"},"y":{"field":"y","type":"quantitative"},"text":{"field":"sub"}}},
   {"data":{"name":"lb"},"transform":[{"filter":"datum.p==3 && datum.k=='s'"}],"mark":{"type":"text","fontSize":22,"align":"right","baseline":"middle","dx":-19},"encoding":{"x":{"datum":0,"type":"quantitative"},"y":{"field":"y","type":"quantitative"},"text":{"field":"t"}}}
  ]},
 {"width":440,"height":390,"title":{"text":"Enable Turn-off","subtitle":"(C4 open)"},
  "layer":[
   {"data":{"values":[{"v":4}]},"mark":{"type":"rule","color":"#8a8a8a","strokeWidth":1},"encoding":{"y":{"field":"v","type":"quantitative","scale":{"domain":[0,8]},"axis":{"values":[0,1,2,3,4,5,6,7,8],"title":null}}}},
   {"data":{"values":[{"v":5}]},"mark":{"type":"rule","color":"#9a9a9a","strokeWidth":1,"strokeDash":[2,2]},"encoding":{"x":{"field":"v","type":"quantitative","scale":{"domain":[0,10]},"axis":{"values":[0,1,2,3,4,5,6,7,8,9,10],"title":"40㎲/div"}}}},
   {"data":{"values":[{"v":4}]},"mark":{"type":"rule","color":"#9a9a9a","strokeWidth":7,"strokeDash":[1.2,7.6]},"encoding":{"y":{"field":"v","type":"quantitative"}}},
   {"data":{"values":[{"v":5}]},"mark":{"type":"rule","color":"#9a9a9a","strokeWidth":7,"strokeDash":[1.2,8.55]},"encoding":{"x":{"field":"v","type":"quantitative"}}},
   {"data":{"name":"sp"},"transform":[{"filter":"datum.p==4"}],"mark":{"type":"rule","strokeWidth":1.6},"encoding":{"x":{"field":"x","type":"quantitative"},"y":{"field":"lo","type":"quantitative"},"y2":{"field":"hi"},"color":{"field":"ch","type":"nominal","scale":{"domain":[1,2,3,4],"range":["#1f1fe6","#1fd9e6","#e01fe0","#1fe01f"]},"legend":null}}},
   {"data":{"name":"tr"},"transform":[{"filter":"datum.p==4"}],"mark":{"type":"line","strokeWidth":4},"encoding":{"x":{"field":"x","type":"quantitative"},"y":{"field":"y","type":"quantitative"},"color":{"field":"ch","type":"nominal","scale":{"domain":[1,2,3,4],"range":["#1f1fe6","#1fd9e6","#e01fe0","#1fe01f"]},"legend":null},"detail":{"field":"s"}}},
   {"data":{"name":"trig"},"transform":[{"filter":"datum.p==4"}],"mark":{"type":"point","shape":"square","filled":true,"size":50,"color":"#f0a028","opacity":1},"encoding":{"x":{"field":"x","type":"quantitative"},"y":{"datum":7.8,"type":"quantitative"}}},
   {"data":{"name":"mk"},"transform":[{"filter":"datum.p==4"}],"mark":{"type":"text","fontSize":9,"align":"right","baseline":"middle","dx":-2},"encoding":{"x":{"datum":0,"type":"quantitative"},"y":{"field":"y","type":"quantitative"},"text":{"field":"ch","type":"nominal"},"color":{"field":"ch","type":"nominal","scale":{"domain":[1,2,3,4],"range":["#1f1fe6","#1fd9e6","#e01fe0","#1fe01f"]},"legend":null}}},
   {"data":{"name":"lb"},"transform":[{"filter":"datum.p==4 && datum.k=='m' && datum.sub=='SW'"}],"mark":{"type":"text","fontSize":22,"fontWeight":"bold","align":"right","baseline":"middle","dx":-44},"encoding":{"x":{"datum":0,"type":"quantitative"},"y":{"field":"y","type":"quantitative"},"text":{"field":"t"}}},
   {"data":{"name":"lb"},"transform":[{"filter":"datum.p==4 && datum.k=='m' && datum.sub=='EN'"}],"mark":{"type":"text","fontSize":22,"fontWeight":"bold","align":"right","baseline":"middle","dx":-40},"encoding":{"x":{"datum":0,"type":"quantitative"},"y":{"field":"y","type":"quantitative"},"text":{"field":"t"}}},
   {"data":{"name":"lb"},"transform":[{"filter":"datum.p==4 && datum.k=='m' && datum.sub=='OUT'"}],"mark":{"type":"text","fontSize":22,"fontWeight":"bold","align":"right","baseline":"middle","dx":-51},"encoding":{"x":{"datum":0,"type":"quantitative"},"y":{"field":"y","type":"quantitative"},"text":{"field":"t"}}},
   {"data":{"name":"lb"},"transform":[{"filter":"datum.p==4 && datum.k=='m' && datum.sub=='LED'"}],"mark":{"type":"text","fontSize":22,"fontWeight":"bold","align":"right","baseline":"middle","dx":-49},"encoding":{"x":{"datum":0,"type":"quantitative"},"y":{"field":"y","type":"quantitative"},"text":{"field":"t"}}},
   {"data":{"name":"lb"},"transform":[{"filter":"datum.p==4 && datum.k=='m'"}],"mark":{"type":"text","fontSize":15,"fontWeight":"bold","align":"right","baseline":"middle","dx":-19,"dy":6},"encoding":{"x":{"datum":0,"type":"quantitative"},"y":{"field":"y","type":"quantitative"},"text":{"field":"sub"}}},
   {"data":{"name":"lb"},"transform":[{"filter":"datum.p==4 && datum.k=='s'"}],"mark":{"type":"text","fontSize":22,"align":"right","baseline":"middle","dx":-19},"encoding":{"x":{"datum":0,"type":"quantitative"},"y":{"field":"y","type":"quantitative"},"text":{"field":"t"}}}
  ]},
 {"width":442,"height":390,"title":{"text":"PWM Dimming Through Enable","subtitle":"(C4 open, PWM Frequency=500Hz, Duty=50%)"},
  "layer":[
   {"data":{"values":[{"v":4}]},"mark":{"type":"rule","color":"#8a8a8a","strokeWidth":1},"encoding":{"y":{"field":"v","type":"quantitative","scale":{"domain":[0,8]},"axis":{"values":[0,1,2,3,4,5,6,7,8],"title":null}}}},
   {"data":{"values":[{"v":5}]},"mark":{"type":"rule","color":"#9a9a9a","strokeWidth":1,"strokeDash":[2,2]},"encoding":{"x":{"field":"v","type":"quantitative","scale":{"domain":[0,10]},"axis":{"values":[0,1,2,3,4,5,6,7,8,9,10],"title":"1㎳/div"}}}},
   {"data":{"values":[{"v":4}]},"mark":{"type":"rule","color":"#9a9a9a","strokeWidth":7,"strokeDash":[1.2,7.64]},"encoding":{"y":{"field":"v","type":"quantitative"}}},
   {"data":{"values":[{"v":5}]},"mark":{"type":"rule","color":"#9a9a9a","strokeWidth":7,"strokeDash":[1.2,8.55]},"encoding":{"x":{"field":"v","type":"quantitative"}}},
   {"data":{"name":"tr"},"transform":[{"filter":"datum.p==5 && datum.ch==3"}],"mark":{"type":"line","strokeWidth":4},"encoding":{"x":{"field":"x","type":"quantitative"},"y":{"field":"y","type":"quantitative"},"color":{"field":"ch","type":"nominal","scale":{"domain":[1,2,3,4],"range":["#1f1fe6","#1fd9e6","#e01fe0","#1fe01f"]},"legend":null},"detail":{"field":"s"}}},
   {"data":{"name":"bd"},"transform":[{"filter":"datum.p==5"}],"mark":{"type":"area","opacity":1},"encoding":{"x":{"field":"x","type":"quantitative"},"y":{"field":"lo","type":"quantitative"},"y2":{"field":"hi"},"color":{"field":"ch","type":"nominal","scale":{"domain":[1,2,3,4],"range":["#1f1fe6","#1fd9e6","#e01fe0","#1fe01f"]},"legend":null},"detail":{"field":"s"}}},
   {"data":{"name":"core"},"transform":[{"filter":"datum.p==5"}],"mark":{"type":"area","opacity":1},"encoding":{"x":{"field":"x","type":"quantitative"},"y":{"field":"lo","type":"quantitative"},"y2":{"field":"hi"},"fill":{"field":"ch","type":"nominal","scale":{"domain":[1,3],"range":["#101a6e","#9a1a9a"]},"legend":null},"detail":{"field":"s"}}},
   {"data":{"name":"tr"},"transform":[{"filter":"datum.p==5 && datum.ch!=3"}],"mark":{"type":"line","strokeWidth":4},"encoding":{"x":{"field":"x","type":"quantitative"},"y":{"field":"y","type":"quantitative"},"color":{"field":"ch","type":"nominal","scale":{"domain":[1,2,3,4],"range":["#1f1fe6","#1fd9e6","#e01fe0","#1fe01f"]},"legend":null},"detail":{"field":"s"}}},
   {"data":{"name":"trig"},"transform":[{"filter":"datum.p==5"}],"mark":{"type":"point","shape":"square","filled":true,"size":50,"color":"#f0a028","opacity":1},"encoding":{"x":{"field":"x","type":"quantitative"},"y":{"datum":7.8,"type":"quantitative"}}},
   {"data":{"name":"mk"},"transform":[{"filter":"datum.p==5"}],"mark":{"type":"text","fontSize":9,"align":"right","baseline":"middle","dx":-2},"encoding":{"x":{"datum":0,"type":"quantitative"},"y":{"field":"y","type":"quantitative"},"text":{"field":"ch","type":"nominal"},"color":{"field":"ch","type":"nominal","scale":{"domain":[1,2,3,4],"range":["#1f1fe6","#1fd9e6","#e01fe0","#1fe01f"]},"legend":null}}},
   {"data":{"name":"lb"},"transform":[{"filter":"datum.p==5 && datum.k=='m' && datum.sub=='SW'"}],"mark":{"type":"text","fontSize":22,"fontWeight":"bold","align":"right","baseline":"middle","dx":-44},"encoding":{"x":{"datum":0,"type":"quantitative"},"y":{"field":"y","type":"quantitative"},"text":{"field":"t"}}},
   {"data":{"name":"lb"},"transform":[{"filter":"datum.p==5 && datum.k=='m' && datum.sub=='EN'"}],"mark":{"type":"text","fontSize":22,"fontWeight":"bold","align":"right","baseline":"middle","dx":-40},"encoding":{"x":{"datum":0,"type":"quantitative"},"y":{"field":"y","type":"quantitative"},"text":{"field":"t"}}},
   {"data":{"name":"lb"},"transform":[{"filter":"datum.p==5 && datum.k=='m' && datum.sub=='OUT'"}],"mark":{"type":"text","fontSize":22,"fontWeight":"bold","align":"right","baseline":"middle","dx":-51},"encoding":{"x":{"datum":0,"type":"quantitative"},"y":{"field":"y","type":"quantitative"},"text":{"field":"t"}}},
   {"data":{"name":"lb"},"transform":[{"filter":"datum.p==5 && datum.k=='m' && datum.sub=='LED'"}],"mark":{"type":"text","fontSize":22,"fontWeight":"bold","align":"right","baseline":"middle","dx":-49},"encoding":{"x":{"datum":0,"type":"quantitative"},"y":{"field":"y","type":"quantitative"},"text":{"field":"t"}}},
   {"data":{"name":"lb"},"transform":[{"filter":"datum.p==5 && datum.k=='m'"}],"mark":{"type":"text","fontSize":15,"fontWeight":"bold","align":"right","baseline":"middle","dx":-19,"dy":6},"encoding":{"x":{"datum":0,"type":"quantitative"},"y":{"field":"y","type":"quantitative"},"text":{"field":"sub"}}},
   {"data":{"name":"lb"},"transform":[{"filter":"datum.p==5 && datum.k=='s'"}],"mark":{"type":"text","fontSize":22,"align":"right","baseline":"middle","dx":-19},"encoding":{"x":{"datum":0,"type":"quantitative"},"y":{"field":"y","type":"quantitative"},"text":{"field":"t"}}}
  ]},
 {"width":440,"height":390,"title":{"text":"LED Current vs PWM Dimming Duty","subtitle":"(C4 open, PWM Frequency=500Hz)","offset":1},
  "view":{"stroke":null},
  "data":{"name":"led"},
  "mark":{"type":"line","color":"#1a1aff","strokeWidth":2.5},
  "encoding":{
   "x":{"field":"duty","type":"quantitative","scale":{"domain":[0,100],"range":[6,440]},"axis":{"values":[0,20,40,60,80,100],"labels":true,"ticks":true,"domain":true,"domainColor":"#000","tickColor":"#000","tickSize":5,"labelFontSize":19,"labelColor":"#000","labelPadding":10,"labelFlush":false,"grid":true,"gridDash":[],"gridColor":"#c0c0c0","gridWidth":1,"title":"PWM Dimming Duty (%)","titleFontSize":22,"titlePadding":10}},
   "y":{"field":"cur","type":"quantitative","scale":{"domain":[0,0.9]},"axis":{"values":[0,0.1,0.2,0.3,0.4,0.5,0.6,0.7,0.8,0.9],"format":".1f","offset":-6,"labels":true,"ticks":true,"domain":true,"domainColor":"#000","tickColor":"#000","tickSize":5,"labelFontSize":19,"labelColor":"#000","labelPadding":14,"grid":true,"gridDash":[],"gridColor":"#c0c0c0","gridWidth":1,"title":"LED Current (A)","titleFontSize":21,"titlePadding":26}}
  }}
]
}
